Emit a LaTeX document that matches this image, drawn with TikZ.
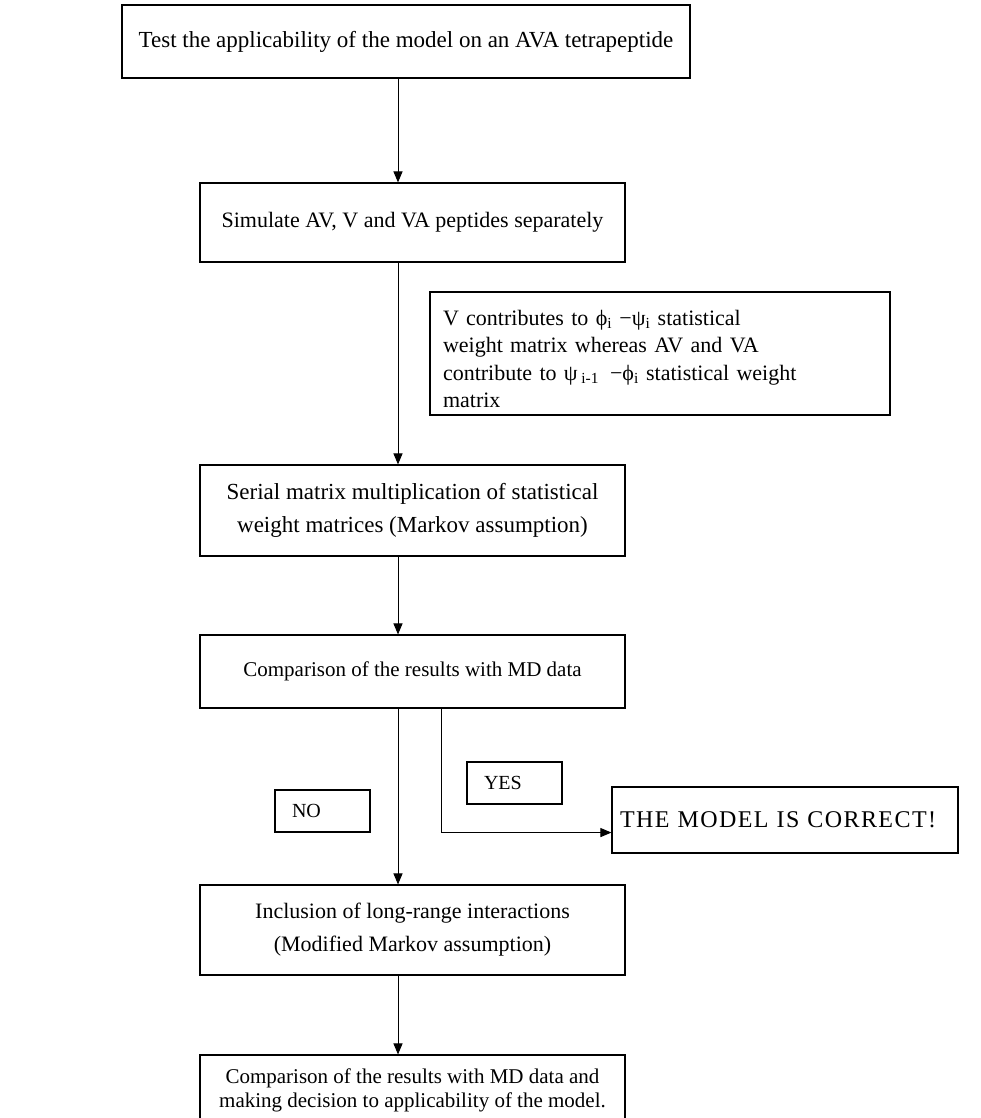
\documentclass[tikz,border=0pt]{standalone}
\usepackage{fontspec}
\setmainfont{Liberation Serif}
\usetikzlibrary{arrows.meta}
\begin{document}
\begin{tikzpicture}[x=1pt,y=-1pt,
  flowbox/.style={draw=black, line width=1.1pt, fill=white, inner sep=0pt,
    align=center, font=\fontsize{22}{33}\selectfont},
  tagbox/.style={flowbox, minimum width=95pt, minimum height=42pt,
    text width=61pt, align=left, font=\fontsize{20}{24}\selectfont},
  link/.style={line width=1pt, -{Triangle[length=11pt,width=9pt]}}]
\useasboundingbox (0,0) rectangle (980,1118);
\coordinate (spine) at (398,0);
\coordinate (yesline) at (441,0);

% main column
\node[flowbox, minimum width=568pt, minimum height=73pt,
  font=\fontsize{23}{33}\selectfont] (test) at (406,41.5)
  {Test the applicability of the model on an AVA tetrapeptide};
\node[flowbox, minimum width=425pt, minimum height=79pt] (sim) at (412.5,222.5)
  {Simulate AV, V and VA peptides separately};
\node[flowbox, minimum width=460pt, minimum height=123pt, text width=434pt,
  align=left, font=\fontsize{22}{27.3}\selectfont] (note) at (660,353.5)
  {\rule{0pt}{26pt}V contributes to ϕ\textsubscript{i} −ψ\textsubscript{i} statistical\\
   weight matrix whereas AV and VA\\
   contribute to ψ\,\textsubscript{i-1}\, −ϕ\textsubscript{i} statistical weight\\
   matrix};
\node[flowbox, minimum width=425pt, minimum height=91pt,
  font=\fontsize{23}{33}\selectfont] (serial) at (412.5,510.5)
  {Serial matrix multiplication of statistical\\weight matrices (Markov assumption)};
\node[flowbox, minimum width=425pt, minimum height=73pt,
  font=\fontsize{21}{33}\selectfont] (cmp) at (412.5,671.5)
  {Comparison of the results with MD data};
\node[tagbox] (no) at (322.5,811) {NO};
\node[tagbox] (yes) at (514.5,783) {YES};
\node[flowbox, minimum width=346pt, minimum height=66pt, text width=330pt,
  align=left, font=\fontsize{24}{30}\selectfont\addfontfeature{LetterSpace=6}] (ok) at (785,820)
  {THE MODEL IS CORRECT!};
\node[flowbox, minimum width=425pt, minimum height=90pt] (incl) at (412.5,930)
  {Inclusion of long-range interactions\\(Modified Markov assumption)};
\node[flowbox, minimum width=425pt, minimum height=70pt,
  font=\fontsize{21}{24}\selectfont] (final) at (412.5,1090)
  {Comparison of the results with MD data and\\making decision to applicability of the model.};

% connectors
\draw[link] (test.south -| spine) -- (sim.north -| spine);
\draw[link] (sim.south -| spine) -- (serial.north -| spine);
\draw[link] (serial.south -| spine) -- (cmp.north -| spine);
\draw[link] (cmp.south -| spine) -- (incl.north -| spine);
\draw[link] (cmp.south -| yesline) |- (ok.west |- no.south);
\draw[link] (incl.south -| spine) -- (final.north -| spine);
\end{tikzpicture}
\end{document}
